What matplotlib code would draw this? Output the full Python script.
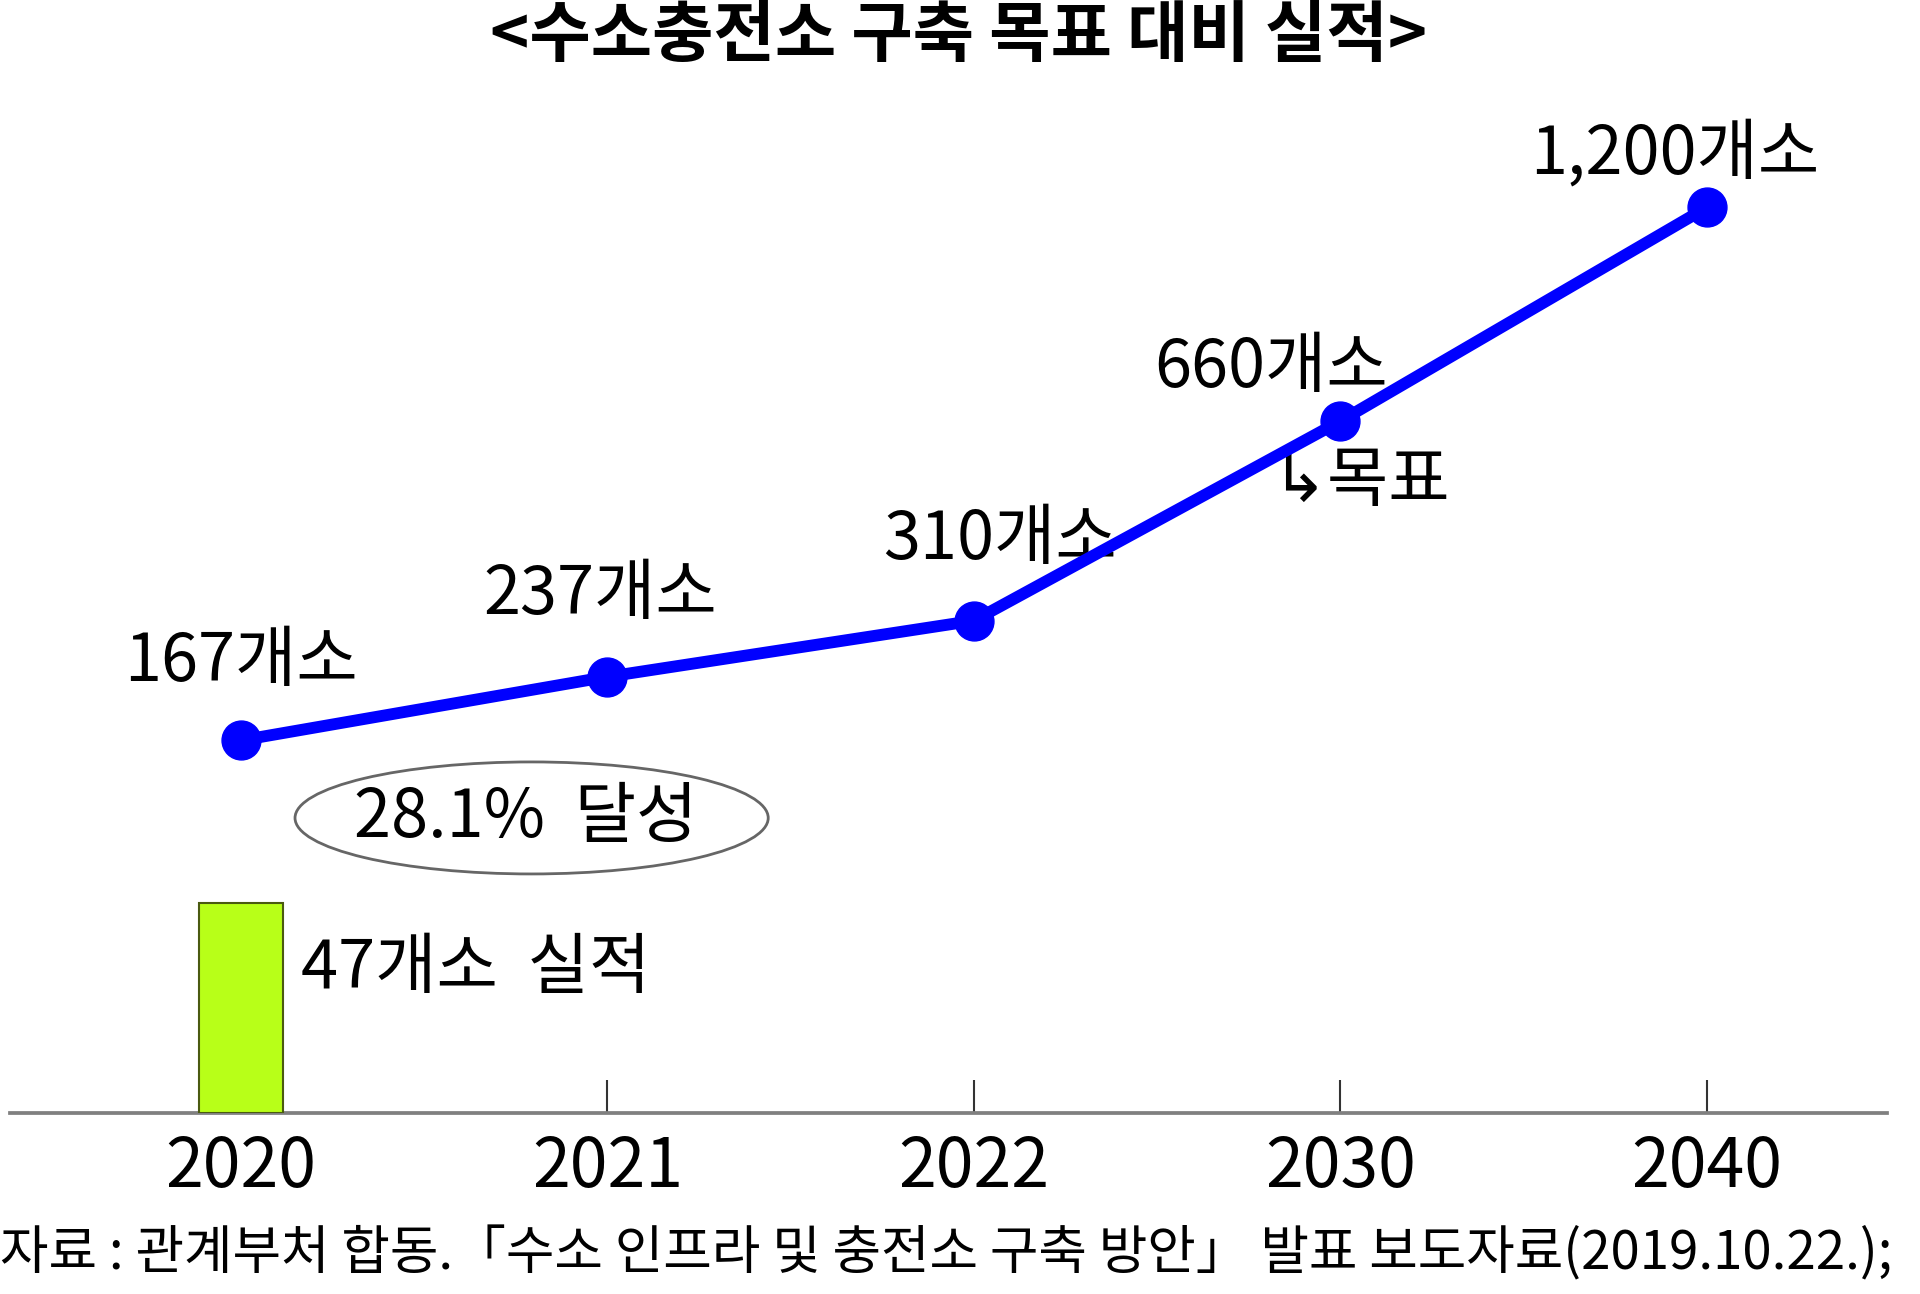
import numpy as np
import matplotlib
matplotlib.use("Agg")
import matplotlib.pyplot as plt
from matplotlib.patches import Ellipse

plt.rcParams['font.family'] = ['Noto Sans CJK KR', 'DejaVu Sans']

# 데이터
years = ['2020', '2021', '2022', '2030', '2040']
target = [167, 237, 310, 660, 1200]
target_labels = ['167개소', '237개소', '310개소', '660개소', '1,200개소']
actual_2020 = 47
title = '<수소충전소 구축 목표 대비 실적>'
source = '자료 : 관계부처 합동.「수소 인프라 및 충전소 구축 방안」 발표 보도자료(2019.10.22.);'

# 레이블 위치 (offset points)
label_offsets = [(0, 56), (-5, 59), (19, 58), (-50, 38), (-23, 38)]

# 개략도 느낌을 살리기 위한 거듭제곱 스케일
p = 0.45
def fwd(v):
    v = np.asarray(v, dtype=float)
    return np.sign(v) * np.abs(v) ** p
def inv(v):
    v = np.asarray(v, dtype=float)
    return np.sign(v) * np.abs(v) ** (1 / p)

fig = plt.figure(figsize=(19.2, 12.94), dpi=100, facecolor='white')
ax = fig.add_axes([0.005, 0.1396, 0.978, 0.7661])

x = np.arange(len(years))

# 실적 막대
ax.bar(x[0], actual_2020, width=0.23, color='#b8ff18', edgecolor='#4a5a10',
       linewidth=1.5, zorder=3)
ax.annotate(f'{actual_2020}개소  실적', (x[0], actual_2020), xytext=(43, -48),
            textcoords='offset points', ha='left', va='center', fontsize=48)

# 목표 선
ax.plot(x, target, color='#0000ff', lw=8.5, marker='o', ms=28, zorder=4)
for xi, v, lab, off in zip(x, target, target_labels, label_offsets):
    ax.annotate(lab, (xi, v), xytext=off, textcoords='offset points',
                ha='center', va='center', fontsize=48)

ax.annotate('↳목표', (x[3], target[3]), xytext=(-50, -44), textcoords='offset points',
            ha='left', va='center', fontsize=48)

# 달성률 타원
ax.add_patch(Ellipse((0.278, 0.298), 0.252, 0.113, transform=ax.transAxes,
                     facecolor='white', edgecolor='#666666', lw=2, zorder=2))
ax.text(0.275, 0.298, f'{actual_2020 / target[0] * 100:.1f}%  달성',
        transform=ax.transAxes, ha='center', va='center', fontsize=48, zorder=5)

ax.set_yscale('function', functions=(fwd, inv))
top = inv(fwd(target[-1]) * 812 / 742)
ax.set_ylim(0, float(top))
ax.set_xlim(-0.631, 4.493)

ax.set_xticks(x)
ax.set_xticklabels(years, fontsize=49)
ax.tick_params(axis='x', direction='in', length=24, width=1.5, color='#333333', pad=14)
ax.set_yticks([])
for s in ['top', 'right', 'left']:
    ax.spines[s].set_visible(False)
ax.spines['bottom'].set_color('#808080')
ax.spines['bottom'].set_linewidth(2.7)

fig.text(0.4994, 0.9717, title, ha='center', va='center', fontsize=48, fontweight='bold')
fig.text(0.0, 0.0311, source, ha='left', va='center', fontsize=38)

fig.savefig('out.png', dpi=100, facecolor='white')
